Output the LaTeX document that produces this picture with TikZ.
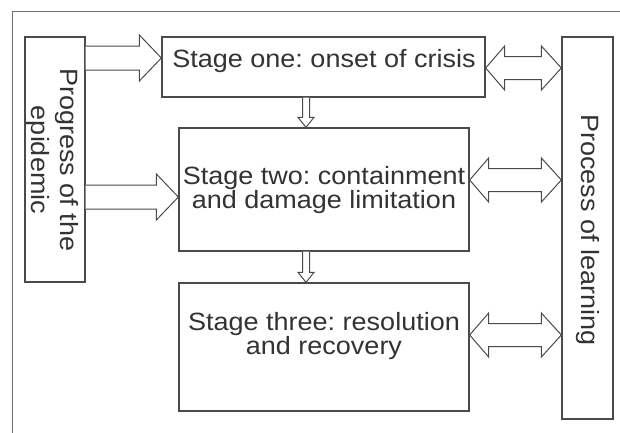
\documentclass[tikz,border=0pt]{standalone}
\usepackage{fontspec}
\setmainfont[FakeStretch=1.08]{Liberation Sans}
\usetikzlibrary{calc}
\frenchspacing
\definecolor{linec}{HTML}{4A4A4A}
\definecolor{framec}{HTML}{707070}
\definecolor{textc}{HTML}{333333}
\tikzset{
  box/.style={draw=linec, line width=1.3pt, inner sep=0pt, fill=white},
  txt/.style={text=textc, inner sep=0pt, font=\fontsize{25}{23}\selectfont, align=center},
  barrow/.style={draw=linec, line width=1pt, line join=miter, fill=white},
}
\newcommand\rightblock[2]{%
  \draw[barrow] let \p1=(#1), \p2=(#2) in
    (\x1,\y1+12pt) -- (\x2-22pt,\y1+12pt) -- (\x2-22pt,\y1+23pt) -- (\x2,\y1)
    -- (\x2-22pt,\y1-23pt) -- (\x2-22pt,\y1-12pt) -- (\x1,\y1-12pt);}
\newcommand\doubleblock[2]{%
  \draw[barrow] let \p1=(#1), \p2=(#2) in
    (\x1,\y1) -- (\x1+19pt,\y1+22pt) -- (\x1+19pt,\y1+11.5pt) -- (\x2-20pt,\y1+11.5pt)
    -- (\x2-20pt,\y1+22pt) -- (\x2,\y1) -- (\x2-20pt,\y1-22pt) -- (\x2-20pt,\y1-11.5pt)
    -- (\x1+19pt,\y1-11.5pt) -- (\x1+19pt,\y1-22pt) -- cycle;}
\newcommand\downblock[2]{%
  \draw[barrow] let \p1=(#1), \p2=(#2) in
    (\x1-3.5pt,\y1) -- (\x1-3.5pt,\y2+10pt) -- (\x1-8pt,\y2+10pt) -- (\x1,\y2)
    -- (\x1+8pt,\y2+10pt) -- (\x1+3.5pt,\y2+10pt) -- (\x1+3.5pt,\y1);}
\begin{document}
\begin{tikzpicture}[x=1pt, y=-1pt]
\useasboundingbox (0,0) rectangle (620,432);
\fill[white] (0,0) rectangle (620,432);
% outer frame
\draw[framec, line width=1pt] (12,440) -- (12,11) -- (630,11);
% boxes
\node[box, minimum width=60pt, minimum height=245pt] (L) at (55,159.5) {};
\node[box, minimum width=323pt, minimum height=60pt] (S1) at (323.5,67) {};
\node[box, minimum width=290pt, minimum height=123pt] (S2) at (324,189.5) {};
\node[box, minimum width=290pt, minimum height=128pt] (S3) at (324,347) {};
\node[box, minimum width=51pt, minimum height=382pt] (R) at (587.5,228) {};
% texts
\node[txt, anchor=base] (S1t) at (324,67.7) {Stage one: onset of crisis};
\node[txt] (S2t) at (324,190) {Stage two: containment\\and damage limitation};
\node[txt] (S3t) at (324,336) {Stage three: resolution\\and recovery};
\node[txt, rotate=-90, font=\fontsize{25}{29}\selectfont] (Lt) at (52,160) {Progress of the\\epidemic};
\node[txt, rotate=-90] (Rt) at (588,230) {Process of learning};
% arrows
\rightblock{L.east |- 0,58}{S1.west |- 0,58}
\rightblock{L.east |- 0,197}{S2.west |- 0,197}
\downblock{S1.south -| 306,0}{S2.north -| 306,0}
\downblock{S2.south -| 306,0}{S3.north -| 306,0}
\doubleblock{S1.east |- 0,68}{R.west |- 0,68}
\doubleblock{S2.east |- 0,180}{R.west |- 0,180}
\doubleblock{S3.east |- 0,335}{R.west |- 0,335}
\end{tikzpicture}
\end{document}
